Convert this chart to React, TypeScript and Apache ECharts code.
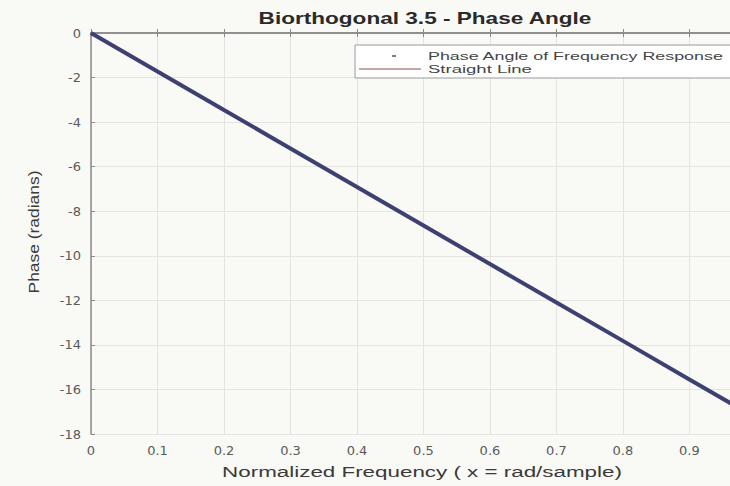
import React, { useEffect, useRef } from "react";
import * as echarts from "echarts";

const freqs = [0, 0.1, 0.2, 0.3, 0.4, 0.5, 0.6, 0.7, 0.8, 0.9, 1.0];
const phase = [0, -1.73, -3.46, -5.18, -6.91, -8.64, -10.37, -12.1, -13.82, -15.55, -17.28];
const lineX = [0, 1.0];
const lineY = [0, -17.28];
const xMin = 0;
const xMax = 0.961;
const yMin = -18;
const yMax = 0;
const titleText = "Biorthogonal 3.5 - Phase Angle";
const legendNames = ["Phase Angle of Frequency Response", "Straight Line"];
const xTitle = "Normalized Frequency ( x = rad/sample)";
const yTitle = "Phase (radians)";

const FONT = "'Liberation Sans', Arial, sans-serif";
const TICKFONT = "'DejaVu Sans', sans-serif";

function measure(text: string, font: string): number {
  const c = document.createElement("canvas");
  const ctx = c.getContext("2d");
  if (!ctx) return text.length * 7;
  ctx.font = font;
  return ctx.measureText(text).width;
}

export default function App() {
  const ref = useRef<HTMLDivElement>(null);
  useEffect(() => {
    if (!ref.current) return;
    const chart = echarts.init(ref.current, undefined, { renderer: "svg" });
    const axisLine = { show: true, lineStyle: { color: "#8a8a8a", width: 1.5 } };

    const titleSize = 16;
    const titleW = measure(titleText, `bold ${titleSize}px Liberation Sans`);
    const titleScale = 334 / titleW;

    const xtSize = 15;
    const xtW = measure(xTitle, `${xtSize}px Liberation Sans`);
    const xtScale = 400 / xtW;

    const ytSize = 14;
    const ytW = measure(yTitle, `${ytSize}px Liberation Sans`);
    const ytScale = 123 / ytW;

    const lgSize = 11;
    const lgW = measure(legendNames[1], `${lgSize}px Liberation Sans`);
    const lgScale = 104 / lgW;
    const lg0W = measure(legendNames[0], `${lgSize}px Liberation Sans`);
    const lg0Scale = Math.min(lgScale, 296 / lg0W);

    chart.setOption({
      animation: false,
      backgroundColor: "#f9f9f6",
      textStyle: { fontFamily: FONT },
      grid: { left: 91, right: 0, top: 33, bottom: 52, containLabel: false },
      xAxis: [
        {
          type: "value",
          min: xMin,
          max: xMax,
          interval: 0.1,
          axisLine,
          axisTick: { show: true, inside: true, length: 4, lineStyle: { color: "#8a8a8a" } },
          axisLabel: { fontSize: 13, color: "#5a5a5a", margin: 10, fontFamily: TICKFONT, showMaxLabel: false },
          splitLine: { show: true, lineStyle: { color: "#e4e4e2", width: 1 } },
        },
        {
          type: "value",
          position: "top",
          min: xMin,
          max: xMax,
          interval: 0.1,
          axisLine,
          axisTick: { show: true, inside: true, length: 4, lineStyle: { color: "#8a8a8a" } },
          axisLabel: { show: false },
          splitLine: { show: false },
        },
      ],
      yAxis: {
        type: "value",
        min: yMin,
        max: yMax,
        interval: 2,
        axisLine,
        axisTick: { show: true, inside: true, length: 4, lineStyle: { color: "#8a8a8a" } },
        axisLabel: { fontSize: 13, color: "#5a5a5a", margin: 10, fontFamily: TICKFONT },
        splitLine: { show: true, lineStyle: { color: "#e4e4e2", width: 1 } },
      },
      series: [
        {
          name: legendNames[1],
          type: "line",
          data: lineX.map((x, i) => [x, lineY[i]]),
          showSymbol: false,
          lineStyle: { color: "#b04040", width: 1.5 },
          z: 2,
        },
        {
          name: legendNames[0],
          type: "line",
          data: freqs.map((x, i) => [x, phase[i]]),
          showSymbol: false,
          lineStyle: { color: "#3d4070", width: 4 },
          z: 3,
        },
      ],
      graphic: [
        {
          type: "text",
          x: 425,
          y: 18,
          scaleX: titleScale,
          style: {
            text: titleText,
            fontSize: titleSize,
            fontWeight: "bold",
            fill: "#2a2a2a",
            fontFamily: FONT,
            align: "center",
            verticalAlign: "middle",
          },
        },
        {
          type: "text",
          x: 422,
          y: 472,
          scaleX: xtScale,
          style: {
            text: xTitle,
            fontSize: xtSize,
            fill: "#3a3a3a",
            fontFamily: FONT,
            align: "center",
            verticalAlign: "middle",
          },
        },
        {
          type: "text",
          x: 34,
          y: 232,
          rotation: Math.PI / 2,
          scaleX: ytScale,
          style: {
            text: yTitle,
            fontSize: ytSize,
            fill: "#3a3a3a",
            fontFamily: FONT,
            align: "center",
            verticalAlign: "middle",
          },
        },
        {
          type: "rect",
          shape: { x: 355, y: 45, width: 400, height: 33 },
          style: { fill: "#ffffff", stroke: "#9a9a9a", lineWidth: 1 },
          z: 10,
        },
        {
          type: "line",
          shape: { x1: 392, y1: 56, x2: 396, y2: 56 },
          style: { stroke: "#555", lineWidth: 1.5 },
          z: 11,
        },
        {
          type: "text",
          x: 428,
          y: 56,
          scaleX: lg0Scale,
          style: {
            text: legendNames[0],
            fontSize: lgSize,
            fill: "#444",
            fontFamily: FONT,
            verticalAlign: "middle",
          },
          z: 11,
        },
        {
          type: "line",
          shape: { x1: 359, y1: 69, x2: 421, y2: 69 },
          style: { stroke: "#8a5050", lineWidth: 1.2 },
          z: 11,
        },
        {
          type: "text",
          x: 428,
          y: 69,
          scaleX: lgScale,
          style: {
            text: legendNames[1],
            fontSize: lgSize,
            fill: "#444",
            fontFamily: FONT,
            verticalAlign: "middle",
          },
          z: 11,
        },
      ],
    });
    return () => chart.dispose();
  }, []);
  return <div ref={ref} style={{ position: "absolute", left: 0, top: 0, width: 730, height: 486 }} />;
}
